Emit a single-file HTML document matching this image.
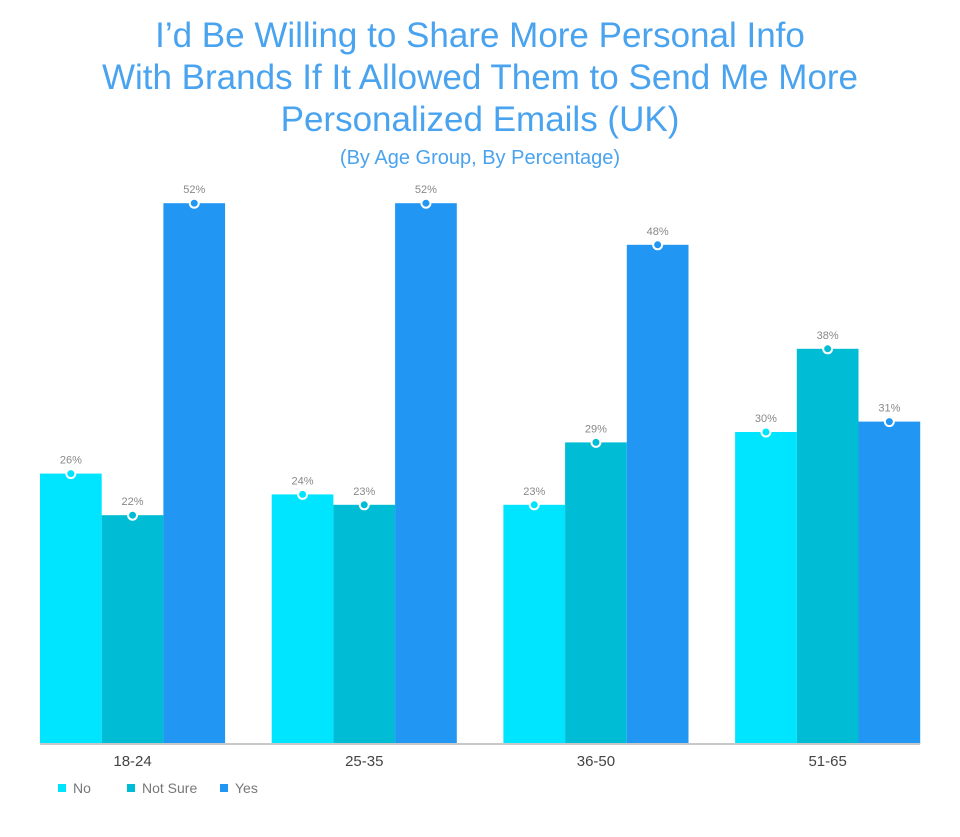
<!DOCTYPE html>
<html><head><meta charset="utf-8"><style>
body{margin:0;background:#fff;}
svg text{font-family:"Liberation Sans",sans-serif;}
</style></head><body>
<svg id="chart" width="960" height="832" xmlns="http://www.w3.org/2000/svg">
<g fill="#4aa3ef" font-size="35" text-anchor="middle">
<text x="480" y="47">I’d Be Willing to Share More Personal Info</text>
<text x="480" y="89">With Brands If It Allowed Them to Send Me More</text>
<text x="480" y="131">Personalized Emails (UK)</text>
<text x="480" y="164" font-size="20">(By Age Group, By Percentage)</text>
</g>
<g id="bars"></g>
<line x1="40" x2="920" y1="744" y2="744" stroke="#c8c8c8" stroke-width="2"/>
<g id="xlabels"></g>
<g id="legend"></g>
</svg>
<script>
const categories=["18-24","25-35","36-50","51-65"];
const seriesNames=["No","Not Sure","Yes"];
const noValues=[26,24,23,30];
const notSureValues=[22,23,29,38];
const yesValues=[52,52,48,31];
const colors=["#00e5ff","#00bcd4","#2196f3"];
const ns="http://www.w3.org/2000/svg";
const base=744, pxPer=10.4, left=40, band=231.7, bw=61.7;
const y=v=>base-v*pxPer;
const x=(ci,si)=>left+ci*band+si*bw;
const bars=document.getElementById('bars');
const all=[noValues,notSureValues,yesValues];
function mk(t,a){const e=document.createElementNS(ns,t);for(const k in a)e.setAttribute(k,a[k]);return e;}
all.forEach((vals,si)=>{vals.forEach((v,ci)=>{
 const r=mk('rect',{x:x(ci,si),y:y(v),width:bw,height:v*pxPer,fill:colors[si]});
 
 
 bars.appendChild(r);
 const c=mk('circle',{cx:x(ci,si)+bw/2,cy:y(v),r:4.5,fill:colors[si],stroke:'#fff','stroke-width':2});
 
 
 bars.appendChild(c);
 const t=mk('text',{x:x(ci,si)+bw/2,y:y(v)-10,'text-anchor':'middle','font-size':11,fill:'#888'});
 t.textContent=v+'%';
 
 
 bars.appendChild(t);
});});
const xl=document.getElementById('xlabels');
categories.forEach((c,ci)=>{
 const t=mk('text',{x:x(ci,0)+1.5*bw,y:766,'text-anchor':'middle','font-size':15,fill:'#444'});
 t.textContent=c;
 
 
 xl.appendChild(t);
});
const lg=document.getElementById('legend');
const lx=[58,127,220];
seriesNames.forEach((n,i)=>{
 const g=mk('g',{});
 
 
 g.appendChild(mk('rect',{x:lx[i],y:784,width:8,height:8,fill:colors[i]}));
 const t=mk('text',{x:lx[i]+15,y:793,'font-size':14,fill:'#777'});
 t.textContent=n;
 g.appendChild(t);
 lg.appendChild(g);
});
</script>
</body></html>
